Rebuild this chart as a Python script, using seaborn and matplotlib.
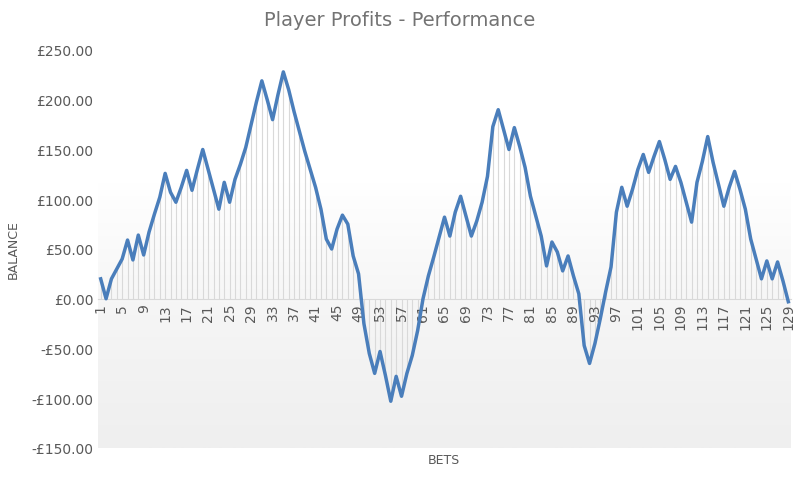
import seaborn as sns
import matplotlib.pyplot as plt
import numpy as np
import pandas as pd
from matplotlib.colors import LinearSegmentedColormap

# Balance after each bet
balance = [
    20, 0, 20, 30, 40, 59, 39, 64, 44, 67, 85, 102, 126, 107, 97, 112, 129, 109, 130, 150,
    130, 110, 90, 117, 97, 120, 135, 152, 175, 198, 219, 200, 180, 205, 228, 210, 188, 168, 148, 130,
    112, 90, 60, 50, 70, 84, 75, 43, 25, -25, -55, -75, -53, -77, -103, -78, -98, -75, -57, -32,
    0, 23, 42, 62, 82, 63, 87, 103, 83, 63, 78, 97, 123, 173, 190, 170, 150, 172, 153, 132,
    103, 83, 63, 33, 57, 47, 28, 43, 23, 5, -47, -65, -45, -20, 7, 32, 87, 112, 93, 110,
    130, 145, 127, 143, 158, 140, 120, 133, 117, 97, 77, 117, 138, 163, 137, 115, 93, 112, 128, 110,
    90, 60, 40, 20, 38, 20, 37, 18, -3,
]
bets = list(range(1, len(balance) + 1))
y_ticks = [-150, -100, -50, 0, 50, 100, 150, 200, 250]

df = pd.DataFrame({'bet': bets, 'balance': balance})

text_color = '#595959'
line_color = '#4a7ebb'

fig = plt.figure(figsize=(8, 4.81), dpi=100)
ax = fig.add_axes([98 / 800, 32 / 481, 693 / 800, 398 / 481])

# soft vertical gradient background: white at top, light grey at bottom
bg_cmap = LinearSegmentedColormap.from_list('bg', ['#ffffff', '#ffffff', '#f5f5f5', '#efefef'])
grad = np.linspace(0, 1, 256).reshape(-1, 1)
ax.imshow(grad, cmap=bg_cmap, extent=[0.5, 129.5, -150, 250],
          aspect='auto', origin='upper', zorder=0)

# drop lines
ax.vlines(df.bet, 0, df.balance, color='#d9d9d9', linewidth=0.8, zorder=1)

sns.lineplot(data=df, x='bet', y='balance', color=line_color, linewidth=2.5, ax=ax, zorder=3)

ax.set_xlim(0.5, 129.5)
ax.set_ylim(-150, 250)
ax.set_yticks(y_ticks)
ax.set_yticklabels([f'-£{abs(v):.2f}' if v < 0 else f'£{v:.2f}' for v in y_ticks])
ax.set_xticks(bets[::4])
ax.set_xticklabels([str(b) for b in bets[::4]])

for name, spine in ax.spines.items():
    spine.set_visible(False)
ax.spines['bottom'].set_visible(True)
ax.spines['bottom'].set_position(('data', 0))
ax.spines['bottom'].set_color('#d9d9d9')

ax.tick_params(axis='both', colors=text_color, length=0, labelsize=10)
ax.tick_params(axis='x', labelrotation=90, pad=3)

ax.set_xlabel('')
ax.set_ylabel('BALANCE', color=text_color, fontsize=9, labelpad=8)
fig.text(0.555, 0.035, 'BETS', color=text_color, fontsize=9, ha='center')
fig.text(0.5, 0.958, 'Player Profits - Performance', color='#737373', fontsize=14, ha='center', va='center')

plt.savefig('out.png', dpi=100)
